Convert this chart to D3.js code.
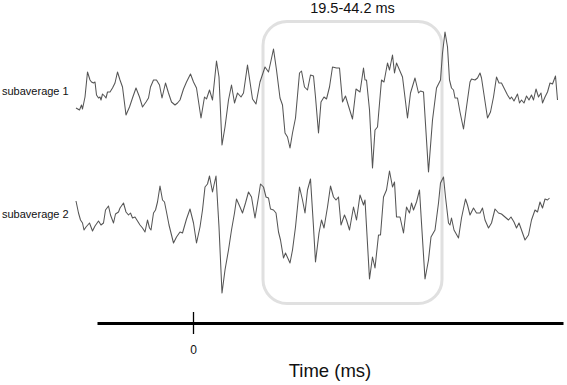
<!DOCTYPE html>
<html>
<head>
<meta charset="utf-8">
<script src="https://cdn.jsdelivr.net/npm/d3@7"></script>
<style>
  body { margin: 0; background: #fff; }
  text { font-family: "Liberation Sans", Arial, sans-serif; }
</style>
</head>
<body>
<div id="chart"></div>
<script>
// time (ms) and amplitude (uV)
const time1 = [-23.4,-22.7,-22.3,-22.1,-21.6,-21.1,-20.6,-20.3,-19.9,-19.6,-19.3,-18.9,-18.6,-18.4,-18.1,-17.7,-17.4,-17.1,-16.6,-16.1,
  -15.6,-15.1,-14.6,-14.1,-13.4,-12.7,-12.1,-11.4,-10.7,-10.1,-9.4,-8.9,-8.5,-7.9,-7.3,-6.7,-6.2,-5.5,-4.9,-4.3,
  -3.6,-3.1,-2.6,-1.9,-1.3,-0.5,0.1,0.7,1.6,2.3,2.7,3.3,3.9,4.7,5.2,5.8,6.4,7.1,7.7,8.3,
  8.9,9.6,10.1,10.9,11.9,12.6,13.4,14.4,15.1,15.5,16.1,16.7,17.4,17.9,18.4,18.9,19.4,19.9,20.5,21.3,
  21.7,22.3,22.9,23.5,24.1,24.5,25.1,25.6,26.2,26.7,27.3,27.9,28.7,29.3,29.9,30.5,31.1,31.9,32.6,33.4,
  34.1,34.4,34.7,35.3,35.9,36.4,36.9,37.7,38.2,38.9,39.3,39.9,40.3,40.7,41.3,41.9,42.9,43.5,44.4,45.1,
  45.5,46.1,47.1,47.9,48.7,49.5,49.9,50.4,50.9,51.3,51.7,52.1,52.4,52.9,53.4,54.1,54.7,55.4,55.7,56.4,
  56.9,57.4,57.7,58.3,58.9,59.5,60.1,60.7,61.2,61.7,62.4,62.9,63.4,63.7,64.2,64.9,65.3,65.7,66.2,66.7,
  67.2,67.7,68.1,68.6,69.1,69.6,69.9,70.4,70.9,71.4,71.9,72.5,72.9];
const amp1 = [-1.3,-1.5,-1.0,-1.4,-0.2,2.3,1.5,1.3,1.2,1.3,0.0,-0.3,-0.2,-0.5,0.1,-0.1,-0.3,0.3,0.3,0.7,
  1.2,2.3,1.5,0.8,-2.0,-1.2,-0.3,0.7,-0.2,-1.2,-0.7,-0.3,0.8,1.5,1.5,1.0,-0.3,1.2,0.2,-0.7,
  -1.0,-0.8,-0.5,0.6,1.3,2.1,1.3,0.7,-2.3,-0.2,-0.4,0.5,-0.5,3.4,1.8,-5.0,-3.2,-0.5,1.0,-0.8,
  0.2,-0.2,0.2,3.0,-0.4,-0.9,1.3,2.8,2.3,3.2,4.6,2.5,-0.3,-1.0,-3.8,-4.2,-5.3,-3.8,-2.3,2.2,
  2.4,0.8,0.5,2.0,1.9,-0.2,-3.8,-0.7,-0.2,-0.4,0.8,2.8,2.7,2.7,-0.7,-0.1,-1.1,-2.4,0.6,0.3,
  2.7,1.5,1.5,-1.5,-7.3,-3.5,-3.2,1.5,1.3,3.2,2.5,4.0,2.2,3.2,2.5,1.8,-2.3,0.2,1.7,0.2,
  0.4,0.3,-7.7,-2.5,0.7,1.5,4.2,6.3,4.8,1.5,0.7,0.5,-0.3,-0.3,-1.7,-3.4,-1.2,1.3,1.6,1.5,
  1.7,2.2,1.7,-0.3,-2.3,-1.7,-0.2,1.8,1.2,1.2,0.5,0.0,-0.4,-0.2,-0.6,0.1,-0.8,-0.5,-0.8,-0.1,
  -0.5,0.0,-0.5,0.6,-0.2,0.2,-0.8,-0.2,0.3,1.2,1.1,1.9,-0.5];

const time2 = [-23.4,-22.9,-22.5,-22.1,-21.8,-21.4,-20.7,-20.1,-19.6,-18.9,-18.4,-17.9,-17.5,-16.9,-16.5,-15.9,-15.5,-14.9,-14.6,-13.9,
  -13.4,-12.9,-12.5,-12.1,-11.6,-11.1,-10.6,-10.1,-9.6,-9.1,-8.7,-8.4,-7.9,-7.5,-7.1,-6.6,-6.1,-5.7,-5.3,-4.8,
  -3.9,-3.3,-2.6,-2.1,-1.7,-1.3,-0.6,0.1,0.7,1.4,1.9,2.4,2.9,3.3,3.9,4.2,4.6,5.2,5.8,6.4,
  7.1,7.7,8.3,8.7,9.4,9.9,10.5,11.1,11.7,12.4,13.1,13.5,14.1,14.6,15.1,15.5,16.1,16.6,17.1,17.5,
  18.1,18.5,19.4,19.9,20.5,21.3,21.9,22.4,22.9,23.5,24.1,24.5,25.2,25.7,26.2,26.9,27.5,28.1,28.6,29.1,
  29.6,30.3,30.7,31.3,32.1,32.7,33.4,34.1,34.4,35.3,35.9,36.4,37.1,37.5,38.1,38.7,39.3,39.9,40.3,40.7,
  41.4,42.1,42.7,43.3,43.7,44.1,44.7,45.3,45.7,46.4,47.1,47.6,48.4,49.1,49.5,50.1,50.5,51.1,51.4,51.7,
  52.2,53.1,53.7,54.5,54.9,55.4,56.1,56.7,57.4,57.9,58.4,59.1,59.7,60.4,61.1,61.7,62.4,63.1,63.6,64.2,
  64.7,65.2,65.7,66.4,67.1,67.7,68.4,68.9,69.4,69.9,70.4,70.9,71.3];
const amp2 = [1.7,0.5,-0.2,-0.5,-1.2,-0.9,-0.5,-1.3,-0.8,-0.3,-0.7,-0.5,0.8,1.2,0.3,-0.5,0.4,0.6,1.0,1.5,
  0.6,0.3,0.5,0.0,0.1,-0.3,-0.7,-1.0,-1.4,-0.2,-1.0,-1.2,0.5,0.8,1.6,3.2,1.8,1.6,0.6,-0.7,
  -2.5,-1.9,-1.4,-1.5,-0.8,-0.1,0.9,-0.5,-2.5,-0.9,0.8,3.1,3.4,4.2,2.6,3.3,4.2,-0.9,-7.5,-5.2,
  -3.2,-1.2,0.5,1.9,1.1,0.5,1.5,2.6,2.1,0.0,2.1,3.4,3.1,2.1,2.0,0.9,0.8,0.5,-1.4,-2.2,
  -4.0,-3.5,-4.5,-3.2,-0.9,3.1,1.8,0.5,2.8,3.9,-0.9,-4.4,-1.5,-0.2,-1.0,1.1,3.2,2.1,1.8,2.1,
  -0.7,0.3,-0.2,-1.2,1.1,-0.2,2.3,1.3,1.8,-6.1,-3.9,-5.0,-1.7,-1.7,2.1,2.8,4.7,3.1,3.6,0.1,
  0.1,-1.5,1.1,0.5,1.5,0.8,1.6,2.8,-0.5,-6.1,-4.2,-1.9,-1.2,1.5,3.5,4.1,2.1,-0.5,-0.7,0.0,
  -1.2,-2.0,0.0,1.9,1.3,0.3,1.0,0.5,0.5,1.0,-0.2,-1.0,-0.5,0.9,0.5,0.4,0.1,-0.2,0.1,-0.4,
  -1.0,-0.5,-1.2,-2.2,-1.7,-0.2,0.8,0.6,1.6,1.0,1.9,1.8,2.0];

const traceNames = ["subaverage 1", "subaverage 2"];
const windowMs = [14, 49.8];          // highlighted window on the time axis
const windowLabel = "19.5-44.2 ms";
const tickValues = [0];

const width = 567, height = 385;

const svg = d3.select("#chart")
    .append("svg")
    .attr("width", width)
    .attr("height", height);

/* X-scale (ms) */
const x = d3.scaleLinear()
    .domain([-19.2, 74])
    .range([97, 563]);

/* rows + amplitude */
const row = d3.scalePoint()
    .domain(traceNames)
    .range([95, 218]);
const amp = d3.scaleLinear()
    .domain([0, 1])
    .range([0, -10]);

const traces = [
    {name: traceNames[0], t: time1, v: amp1},
    {name: traceNames[1], t: time2, v: amp2}
];

/* window box */
svg.append("rect")
    .attr("x", x(windowMs[0]))
    .attr("y", 21.5)
    .attr("width", x(windowMs[1]) - x(windowMs[0]))
    .attr("height", 282)
    .attr("rx", 24)
    .attr("fill", "none")
    .attr("stroke", "#e0e0e0")
    .attr("stroke-width", 3);

svg.append("text")
    .attr("x", (x(windowMs[0]) + x(windowMs[1])) / 2)
    .attr("y", 13)
    .attr("text-anchor", "middle")
    .attr("font-size", "14.5px")
    .attr("fill", "#111")
    .text(windowLabel);

/* traces */
traces.forEach(tr => {
    const base = row(tr.name);
    const line = d3.line()
        .x((d, i) => x(tr.t[i]))
        .y(d => base + amp(d));

    svg.append("path")
        .datum(tr.v)
        .attr("d", line)
        .attr("fill", "none")
        .attr("stroke", "#555")
        .attr("stroke-width", 1.05)
        .attr("stroke-linejoin", "round");

    svg.append("text")
        .attr("x", 2)
        .attr("y", base)
        .attr("font-size", "11px")
        .attr("fill", "#111")
        .text(tr.name);
});

/* X-axis */
const axis = svg.append("g")
    .attr("transform", "translate(0, 323)")
    .call(d3.axisBottom(x).tickValues(tickValues).tickSizeOuter(0).tickFormat(d3.format("d")));

axis.select(".domain")
    .attr("stroke", "#000")
    .attr("stroke-width", 3);
axis.selectAll(".tick line")
    .attr("y1", -11)
    .attr("y2", 11)
    .attr("stroke-width", 1.3);
axis.selectAll(".tick text")
    .attr("y", 22)
    .attr("font-size", "12px")
    .attr("font-family", "Liberation Sans, Arial, sans-serif")
    .attr("fill", "#111");

svg.append("text")
    .attr("x", 330)
    .attr("y", 377)
    .attr("text-anchor", "middle")
    .attr("font-size", "18.5px")
    .attr("fill", "#111")
    .text("Time (ms)");
</script>
</body>
</html>
